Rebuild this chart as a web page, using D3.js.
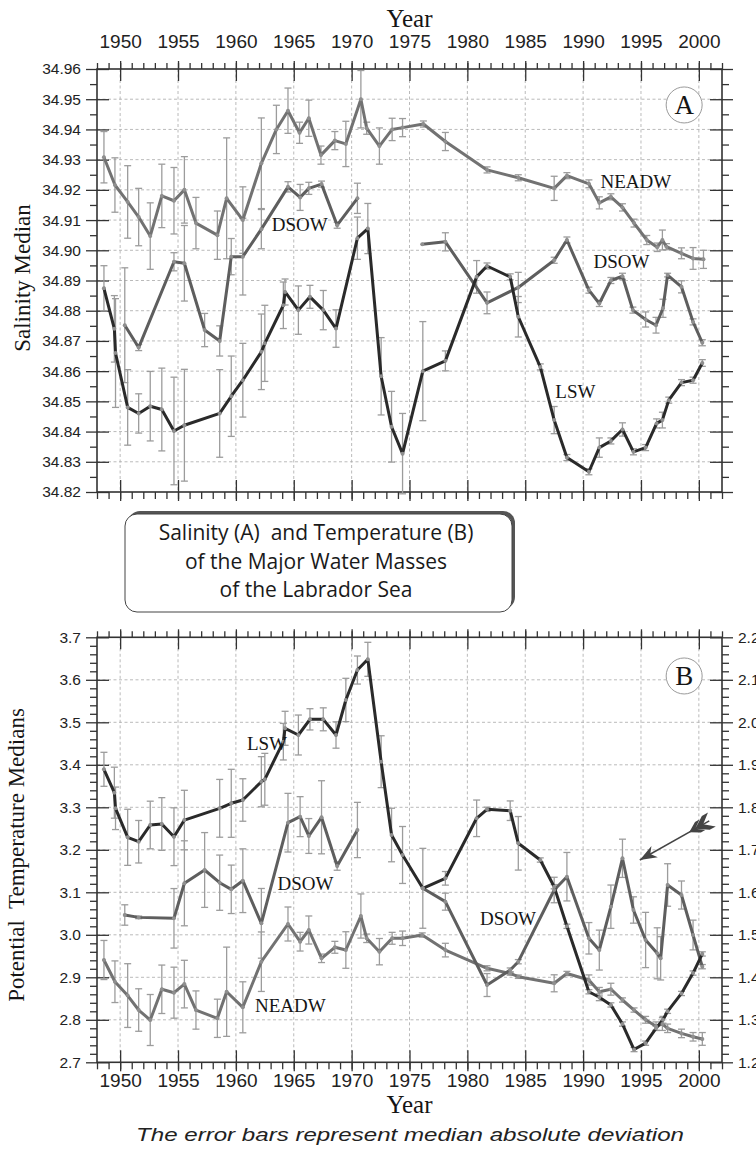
<!DOCTYPE html>
<html><head><meta charset="utf-8">
<script src="https://cdn.jsdelivr.net/npm/d3@7"></script>
<style>body{margin:0;background:#fff}svg{display:block}</style>
</head><body>
<svg id="c" width="756" height="1154"></svg>
<script>
// ---------- DATA: [year, median, median absolute deviation] ----------
const salNEADW = [[1948.6,34.9308,0.0085],[1949.55,34.9216,0.009],[1950.65,34.916,0.012],[1951.6,34.911,0.0095],[1952.6,34.9047,0.011],[1953.6,34.918,0.0105],[1954.65,34.9164,0.011],[1955.55,34.920,0.011],[1956.55,34.909,0.0085],[1958.4,34.905,0.008],[1959.2,34.9172,0.020],[1960.6,34.910,0.011],[1962.2,34.9288,0.015],[1963.5,34.940,0.008],[1964.5,34.9462,0.0075],[1965.5,34.9389,0.0035],[1966.3,34.9437,0.006],[1967.35,34.9315,0.003],[1968.55,34.9363,0.003],[1969.5,34.9352,0.0075],[1970.8,34.950,0.0095],[1971.3,34.9404,0.002],[1972.4,34.9345,0.006],[1973.5,34.940,0.0037],[1974.4,34.9406,0.003],[1976.2,34.9418,0.001],[1978.1,34.936,0.003],[1981.7,34.9266,0.001],[1984.4,34.924,0.001],[1987.5,34.9205,0.004],[1988.6,34.9247,0.001],[1990.5,34.922,0.0013],[1991.4,34.9157,0.002],[1992.4,34.9177,0.001],[1993.4,34.9142,0.0012],[1994.4,34.909,0.0013],[1995.5,34.9034,0.0015],[1996.4,34.901,0.0014],[1996.85,34.9034,0.0033],[1997.2,34.9012,0.001],[1998.5,34.899,0.0018],[1999.5,34.8973,0.0036],[2000.4,34.897,0.003]];
const salDSOW = [[1950.4,34.8752,0.019],[1951.6,34.8678,0.001],[1954.65,34.8962,0.003],[1955.55,34.8957,0.0125],[1957.3,34.8736,0.0055],[1958.6,34.870,0.005],[1959.6,34.8979,0.006],[1960.6,34.8979,0.0127],[1962.2,34.907,0.0065],[1964.5,34.921,0.0017],[1965.55,34.9175,0.0043],[1966.3,34.9205,0.002],[1967.4,34.9219,0.001],[1968.75,34.9083,0.001],[1970.5,34.9172,0.005],[1973,null,0],[1976.1,34.902,0],[1978.1,34.9028,0.003],[1981.7,34.8826,0.0036],[1984.4,34.8877,0.005],[1987.5,34.8967,0.001],[1988.6,34.9034,0.001],[1990.5,34.8868,0.001],[1991.4,34.8824,0.001],[1992.4,34.890,0.001],[1993.4,34.8914,0.001],[1994.3,34.8802,0.001],[1995.4,34.8771,0.0025],[1996.3,34.8752,0.0026],[1996.9,34.8808,0.003],[1997.3,34.8918,0.0006],[1998.5,34.8879,0.002],[1999.5,34.8763,0.001],[2000.3,34.8694,0.001]];
const salLSW = [[1948.6,34.8874,0.0075],[1949.5,34.874,0.011],[1949.6,34.866,0.018],[1950.65,34.848,0.0125],[1951.6,34.846,0.0065],[1952.6,34.8484,0.0115],[1953.6,34.8473,0.0137],[1954.65,34.8402,0.0178],[1955.55,34.8421,0.0185],[1958.6,34.846,0.0145],[1959.6,34.8517,0.0133],[1960.6,34.857,0.0122],[1962.2,34.8664,0.0125],[1962.5,34.8692,0.0126],[1964.1,34.8818,0.0077],[1964.25,34.8862,0.0043],[1965.4,34.8802,0.008],[1966.4,34.8846,0.0038],[1967.55,34.8802,0.0065],[1968.65,34.8741,0.0062],[1970.5,34.904,0.007],[1971.4,34.9072,0.0083],[1972.55,34.8583,0.0128],[1973.45,34.8416,0.0117],[1974.4,34.8327,0.0133],[1976.15,34.860,0.0164],[1978.1,34.8634,0.0033],[1980.8,34.8912,0.0054],[1981.7,34.8948,0.001],[1983.7,34.8912,0.001],[1984.4,34.878,0.0067],[1986.3,34.8614,0.001],[1987.5,34.8438,0.0045],[1988.6,34.8314,0.001],[1990.5,34.8267,0.001],[1991.4,34.8347,0.0032],[1992.4,34.8369,0.001],[1993.4,34.8407,0.0022],[1994.35,34.8333,0.001],[1995.4,34.8347,0.001],[1996.35,34.8427,0.0015],[1996.85,34.8438,0.0026],[1997.4,34.8504,0.001],[1998.5,34.8562,0.001],[1999.5,34.857,0.001],[2000.3,34.8627,0.0011]];

// Potential temperature: LSW and NEADW on left axis, DSOW on right axis
const tempLSW = [[1948.6,3.3894,0.04],[1949.5,3.3344,0.06],[1949.6,3.2976,0.05],[1950.65,3.2294,0.066],[1951.6,3.219,0.05],[1952.6,3.2584,0.056],[1953.6,3.2607,0.062],[1954.65,3.2308,0.068],[1955.55,3.270,0.07],[1958.6,3.2976,0.068],[1959.6,3.3094,0.08],[1960.6,3.3172,0.05],[1962.2,3.3602,0.059],[1962.5,3.3659,0.061],[1964.1,3.4544,0.043],[1964.25,3.4859,0.04],[1965.4,3.4701,0.047],[1966.4,3.507,0.025],[1967.55,3.507,0.027],[1968.65,3.4701,0.031],[1969.5,3.5525,0.051],[1970.5,3.623,0.033],[1971.4,3.6482,0.04],[1972.55,3.4073,0.061],[1973.45,3.2348,0.063],[1974.4,3.1878,0.067],[1976.15,3.1094,0.094],[1978.1,3.1329,0.016],[1980.8,3.2741,0.043],[1981.7,3.2953,0.005],[1983.7,3.292,0.023],[1984.4,3.2153,0.063],[1986.3,3.176,0.005],[1987.5,3.1132,0.005],[1988.6,3.02,0.005],[1990.5,2.866,0.005],[1991.4,2.853,0.008],[1992.4,2.835,0.005],[1993.4,2.79,0.005],[1994.4,2.73,0.005],[1995.4,2.745,0.005],[1996.3,2.78,0.005],[1996.9,2.80,0.008],[1997.3,2.82,0.005],[1998.5,2.862,0.005],[1999.5,2.91,0.005],[2000.3,2.955,0.005]];
const tempNEADW = [[1948.6,2.9407,0.046],[1949.55,2.8896,0.049],[1950.65,2.857,0.075],[1951.6,2.823,0.05],[1952.6,2.7995,0.06],[1953.6,2.8718,0.057],[1954.65,2.8638,0.06],[1955.55,2.884,0.056],[1956.55,2.823,0.045],[1958.4,2.8035,0.045],[1959.2,2.866,0.105],[1960.6,2.8294,0.06],[1962.2,2.9367,0.07],[1964.5,3.0254,0.04],[1965.55,2.9838,0.022],[1966.3,3.0113,0.033],[1967.4,2.9447,0.01],[1968.55,2.9706,0.014],[1969.5,2.9642,0.043],[1970.8,3.0442,0.052],[1971.3,2.9918,0.01],[1972.4,2.9603,0.031],[1973.5,2.9918,0.014],[1974.4,2.9918,0.017],[1976.1,2.9995,0.005],[1978.1,2.964,0.016],[1981.7,2.9212,0.006],[1983.7,2.909,0.004],[1984.4,2.9014,0.004],[1987.5,2.8859,0.02],[1988.6,2.909,0.005],[1990.5,2.8936,0.012],[1991.4,2.8661,0.01],[1992.4,2.872,0.014],[1993.4,2.8466,0.005],[1994.4,2.823,0.005],[1995.4,2.80,0.008],[1996.3,2.785,0.01],[1996.85,2.79,0.015],[1997.3,2.78,0.01],[1998.5,2.768,0.01],[1999.5,2.76,0.01],[2000.3,2.755,0.015]];
const tempDSOW = [[1950.4,1.5466,0.024],[1951.6,1.541,0.003],[1954.65,1.5388,0.07],[1955.55,1.6212,0.1],[1957.3,1.6525,0.088],[1958.6,1.6226,0.065],[1959.6,1.607,0.057],[1960.6,1.6273,0.075],[1962.2,1.527,0.082],[1964.5,1.7638,0.069],[1965.55,1.778,0.047],[1966.3,1.7325,0.041],[1967.4,1.7765,0.086],[1968.75,1.6619,0.01],[1970.5,1.7466,0.065],[1973,null,0],[1976.15,1.6094,0],[1978.1,1.578,0.02],[1981.7,1.3818,0.027],[1983.7,1.417,0.005],[1984.4,1.4367,0.005],[1987.5,1.6054,0.03],[1988.6,1.6367,0.057],[1990.5,1.4918,0.037],[1991.4,1.464,0.047],[1992.4,1.5661,0.051],[1993.4,1.68,0.045],[1994.35,1.5584,0.031],[1995.4,1.4878,0.065],[1996.4,1.4565,0.06],[1996.7,1.4447,0.051],[1997.3,1.6172,0.05],[1998.5,1.5936,0.033],[1999.5,1.4995,0.035],[2000.3,1.425,0.005]];

// axes / ticks
const yearMajor = [1950,1955,1960,1965,1970,1975,1980,1985,1990,1995,2000];
const yearMinor = d3.range(1948,2003);
const salMajor = [34.82,34.83,34.84,34.85,34.86,34.87,34.88,34.89,34.90,34.91,34.92,34.93,34.94,34.95,34.96];
const tempMajor = [2.7,2.8,2.9,3.0,3.1,3.2,3.3,3.4,3.5,3.6,3.7];
const tempRightMajor = [1.2,1.3,1.4,1.5,1.6,1.7,1.8,1.9,2.0,2.1,2.2];

// labels: [text, year, value]
const labelsA = [["NEADW",1991.5,34.9206],["DSOW",1963.1,34.9064],["DSOW",1990.9,34.8941],["LSW",1987.6,34.8511]];
const labelsB = [["LSW",1960.95,3.4348],["DSOW",1963.6,3.1054],["DSOW",1981.1,3.0231],["NEADW",1961.65,2.8184]];
const arrowB = {tail:[2000.9,3.268], tip:[1994.9,3.176]};
const titleLines = ["Salinity (A)  and Temperature (B)","of the Major Water Masses","of the Labrador Sea"];

// ---------- DRAWING ----------
const svg = d3.select("#c");
const L=97, R=722;
const x = d3.scaleLinear().domain([1948,2002]).range([L,R]);
const yA = d3.scaleLinear().domain([34.82,34.96]).range([492,69]);
const yB = d3.scaleLinear().domain([2.7,3.7]).range([1062.3,637.3]);
const yB2 = d3.scaleLinear().domain([1.2,2.2]).range([1062.3,637.3]);

const serif = "'Liberation Serif','DejaVu Serif',serif";
const sans = "'Liberation Sans',Arial,sans-serif";
const narrow = "'Liberation Sans Narrow','Liberation Sans',sans-serif";
const cNE = "#727272", cDS = "#5e5e5e", cLS = "#2a2a2a", cErr = "#9c9c9c", cAxis="#333";

function clean(g){ g.select(".domain").remove(); g.selectAll("line").attr("stroke",cAxis).attr("stroke-width",1.3); }

function panel(y, yMajor, yMinor, fmt, opts){
  const [b,t] = y.range();
  const g = svg.append("g");
  g.append("g").selectAll("line").data(yearMajor).join("line")
    .attr("x1",d=>x(d)).attr("x2",d=>x(d)).attr("y1",t).attr("y2",b)
    .attr("stroke","#a8a8a8").attr("stroke-width",0.8).attr("stroke-dasharray","3,2.5");
  g.append("g").selectAll("line").data(yMajor.slice(1,-1)).join("line")
    .attr("y1",d=>y(d)).attr("y2",d=>y(d)).attr("x1",L).attr("x2",R)
    .attr("stroke","#a8a8a8").attr("stroke-width",0.8).attr("stroke-dasharray","3,2.5");
  g.append("rect").attr("x",L).attr("y",t).attr("width",R-L).attr("height",b-t)
    .attr("fill","none").attr("stroke",cAxis).attr("stroke-width",1.6);
  g.append("g").attr("transform",`translate(${L},0)`)
    .call(d3.axisLeft(y).tickValues(yMajor).tickSize(11).tickPadding(5).tickFormat(fmt))
    .call(clean).call(a=>a.selectAll("text").attr("font-family",sans).attr("font-size",15.5).attr("fill","#222"));
  g.append("g").attr("transform",`translate(${L},0)`)
    .call(d3.axisRight(y).tickValues(yMajor).tickSize(12).tickFormat("")).call(clean);
  g.append("g").attr("transform",`translate(${L},0)`)
    .call(d3.axisLeft(y).tickValues(yMinor).tickSize(7).tickFormat("")).call(clean);
  const yr = opts.right || y;
  const rMajor = opts.rightMajor || yMajor;
  const rMinor = opts.rightMinor || yMinor;
  g.append("g").attr("transform",`translate(${R},0)`)
    .call(d3.axisRight(yr).tickValues(rMajor).tickSize(11).tickPadding(5).tickFormat(opts.right? d3.format(".1f"):""))
    .call(clean).call(a=>a.selectAll("text").attr("font-family",sans).attr("font-size",15.5).attr("fill","#222"));
  g.append("g").attr("transform",`translate(${R},0)`)
    .call(d3.axisLeft(yr).tickValues(rMajor).tickSize(12).tickFormat("")).call(clean);
  g.append("g").attr("transform",`translate(${R},0)`)
    .call(d3.axisRight(yr).tickValues(rMinor).tickSize(7).tickFormat("")).call(clean);
  g.append("g").attr("transform",`translate(0,${t})`)
    .call(d3.axisTop(x).tickValues(yearMajor).tickSize(8).tickPadding(13).tickFormat(opts.topLabels? d3.format("d"):""))
    .call(clean).call(a=>a.selectAll("text").attr("font-family",narrow).attr("font-size",19).attr("fill","#222"));
  g.append("g").attr("transform",`translate(0,${t})`)
    .call(d3.axisBottom(x).tickValues(yearMajor).tickSize(12).tickFormat("")).call(clean);
  g.append("g").attr("transform",`translate(0,${t})`)
    .call(d3.axisTop(x).tickValues(yearMinor).tickSize(6).tickFormat("")).call(clean);
  g.append("g").attr("transform",`translate(0,${b})`)
    .call(d3.axisBottom(x).tickValues(yearMajor).tickSize(9).tickPadding(2).tickFormat(opts.bottomLabels? d3.format("d"):""))
    .call(clean).call(a=>a.selectAll("text").attr("font-family",narrow).attr("font-size",19).attr("fill","#222"));
  g.append("g").attr("transform",`translate(0,${b})`)
    .call(d3.axisTop(x).tickValues(yearMajor).tickSize(12).tickFormat("")).call(clean);
  g.append("g").attr("transform",`translate(0,${b})`)
    .call(d3.axisBottom(x).tickValues(yearMinor).tickSize(7).tickFormat("")).call(clean);
  return g;
}

function errBars(g, data, y){
  const d2 = data.filter(d=>d[1]!=null && d[2]>0);
  const eg = g.append("g").attr("stroke",cErr).attr("stroke-width",1.3);
  eg.selectAll(".v").data(d2).join("line").attr("x1",d=>x(d[0])).attr("x2",d=>x(d[0]))
    .attr("y1",d=>y(d[1]-d[2])).attr("y2",d=>y(d[1]+d[2]));
  eg.selectAll(".t").data(d2).join("line").attr("x1",d=>x(d[0])-3.5).attr("x2",d=>x(d[0])+3.5)
    .attr("y1",d=>y(d[1]+d[2])).attr("y2",d=>y(d[1]+d[2]));
  eg.selectAll(".b").data(d2).join("line").attr("x1",d=>x(d[0])-3.5).attr("x2",d=>x(d[0])+3.5)
    .attr("y1",d=>y(d[1]-d[2])).attr("y2",d=>y(d[1]-d[2]));
}
function series(g, data, y, color){
  const line = d3.line().defined(d=>d[1]!=null).x(d=>x(d[0])).y(d=>y(d[1]));
  g.append("path").datum(data).attr("d",line).attr("fill","none").attr("stroke",color)
    .attr("stroke-width",3).attr("stroke-linejoin","round").attr("stroke-linecap","round");
}
function markers(g, data, y){
  g.append("g").selectAll("circle").data(data.filter(d=>d[1]!=null)).join("circle")
    .attr("cx",d=>x(d[0])).attr("cy",d=>y(d[1])).attr("r",2).attr("fill","#8f8f8f");
}
function labels(g, data, y){
  g.append("g").selectAll("text").data(data).join("text")
    .attr("x",d=>x(d[1])).attr("y",d=>y(d[2])).text(d=>d[0])
    .attr("font-family",serif).attr("font-size",19).attr("fill","#151515");
}
function circleLabel(g, yr, v, y, txt){
  g.append("circle").attr("cx",x(yr)).attr("cy",y(v)).attr("r",18).attr("fill","#fff").attr("stroke","#9a9a9a").attr("stroke-width",1);
  g.append("text").attr("x",x(yr)).attr("y",y(v)+9).attr("text-anchor","middle").text(txt)
    .attr("font-family",serif).attr("font-size",27).attr("fill","#151515");
}

// Panel A
const gA = panel(yA, salMajor, d3.range(34.825,34.96,0.01).map(v=>+v.toFixed(3)), d3.format(".2f"), {topLabels:true});
[salNEADW,salDSOW,salLSW].forEach(s=>errBars(gA,s,yA));
series(gA,salNEADW,yA,cNE); series(gA,salDSOW,yA,cDS); series(gA,salLSW,yA,cLS);
[salNEADW,salDSOW,salLSW].forEach(s=>markers(gA,s,yA));
labels(gA,labelsA,yA);
circleLabel(gA,1998.73,34.9481,yA,"A");

// Panel B
const minorB = tempMajor.slice(0,-1).flatMap(v=>[0.02,0.04,0.06,0.08].map(o=>+(v+o).toFixed(2)));
const minorB2 = tempRightMajor.slice(0,-1).flatMap(v=>[0.02,0.04,0.06,0.08].map(o=>+(v+o).toFixed(2)));
const gB = panel(yB, tempMajor, minorB, d3.format(".1f"), {bottomLabels:true, right:yB2, rightMajor:tempRightMajor, rightMinor:minorB2});
errBars(gB,tempLSW,yB); errBars(gB,tempNEADW,yB); errBars(gB,tempDSOW,yB2);
series(gB,tempNEADW,yB,cNE); series(gB,tempDSOW,yB2,cDS); series(gB,tempLSW,yB,cLS);
markers(gB,tempNEADW,yB); markers(gB,tempDSOW,yB2); markers(gB,tempLSW,yB);
labels(gB,labelsB,yB);
circleLabel(gB,1998.73,3.609,yB,"B");

// arrow (tail feathers at upper right, barbed head at lower left)
{
  const [tx,ty] = [x(arrowB.tail[0]), yB(arrowB.tail[1])];
  const [hx,hy] = [x(arrowB.tip[0]), yB(arrowB.tip[1])];
  const rot = Math.atan2(hy-ty,hx-tx)*180/Math.PI;
  const ag = gB.append("g").attr("fill","#444");
  ag.append("line").attr("x1",tx).attr("y1",ty).attr("x2",hx).attr("y2",hy).attr("stroke","#444").attr("stroke-width",1.5);
  ag.append("path").attr("transform",`translate(${hx},${hy}) rotate(${rot})`)
    .attr("d","M0,0 L-17,-6.5 L-12,0 L-17,6.5 Z");
  ag.append("path").attr("transform",`translate(${tx},${ty}) rotate(${rot})`)
    .attr("d","M-3,-8 L4,-8 L16,0 L4,8 L-3,8 L7,0 Z M8,-6 L13,-6 L23,0 L13,6 L8,6 L16,0 Z");
}

// Axis titles
svg.append("text").attr("x",(L+R)/2).attr("y",27).attr("text-anchor","middle").text("Year")
  .attr("font-family",serif).attr("font-size",25).attr("fill","#151515");
svg.append("text").attr("x",(L+R)/2).attr("y",1113).attr("text-anchor","middle").text("Year")
  .attr("font-family",serif).attr("font-size",25).attr("fill","#151515");
svg.append("text").attr("transform","translate(30,278) rotate(-90)").attr("text-anchor","middle").text("Salinity Median")
  .attr("font-family",serif).attr("font-size",23).attr("fill","#151515");
svg.append("text").attr("transform","translate(24,855) rotate(-90)").attr("text-anchor","middle").text("Potential  Temperature Medians")
  .attr("font-family",serif).attr("font-size",23).attr("fill","#151515").style("white-space","pre");
svg.append("text").attr("x",410).attr("y",1141).attr("text-anchor","middle").text("The error bars represent median absolute deviation")
  .attr("font-family",sans).attr("font-style","italic").attr("font-size",18).attr("fill","#222")
  .attr("textLength",548).attr("lengthAdjust","spacingAndGlyphs");

// Title box
const tb = svg.append("g");
tb.append("rect").attr("x",128).attr("y",511).attr("width",387).attr("height",98).attr("rx",12).attr("fill","#555");
tb.append("rect").attr("x",125).attr("y",514).attr("width",387).attr("height",98).attr("rx",12).attr("fill","#fff").attr("stroke","#444").attr("stroke-width",1);
tb.selectAll("text").data(titleLines).join("text")
  .attr("x",316).attr("y",(d,i)=>540+i*28.5).attr("text-anchor","middle").text(d=>d)
  .attr("font-family","'Open Sans',Lato,sans-serif").attr("font-size",21).attr("fill","#1a1a1a")
  .style("white-space","pre");
</script>
</body></html>
